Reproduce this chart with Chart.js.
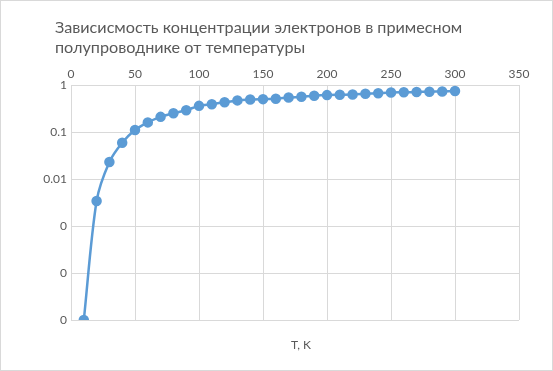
<!DOCTYPE html>
<html>
<head>
<meta charset="utf-8">
<script src="https://cdn.jsdelivr.net/npm/chart.js@4"></script>
<style>
  body { margin: 0; background: #fff; }
  #wrap { width: 553px; height: 371px; }
</style>
</head>
<body>
<div id="wrap"><canvas id="concChart" width="553" height="371"></canvas></div>
<script>
// temperature, K
const temps = [10, 20, 30, 40, 50, 60, 70, 80, 90, 100, 110, 120, 130, 140, 150,
  160, 170, 180, 190, 200, 210, 220, 230, 240, 250, 260, 270, 280, 290, 300];
// relative electron concentration
const conc = [0.00001, 0.0034, 0.023, 0.059, 0.11, 0.16, 0.21, 0.25, 0.29, 0.36,
  0.39, 0.43, 0.47, 0.49, 0.50, 0.51, 0.54, 0.56, 0.59, 0.61,
  0.62, 0.63, 0.65, 0.67, 0.69, 0.70, 0.71, 0.72, 0.73, 0.745];
const yTicks = [0.00001, 0.0001, 0.001, 0.01, 0.1, 1];
const titleLines = ['Зависисмость концентрации электронов в примесном', 'полупроводнике от температуры'];
const xTitle = 'T, K';

const textColor = '#595959';
const gridColor = '#d9d9d9';
const blue = '#5b9bd5';

// white background, thin outer frame, the left-aligned title and the x axis title under the plot
const frame = {
  id: 'frame',
  beforeDraw(chart) {
    const ctx = chart.ctx;
    ctx.save();
    ctx.fillStyle = '#fff';
    ctx.fillRect(0, 0, chart.width, chart.height);
    ctx.strokeStyle = gridColor;
    ctx.lineWidth = 1;
    ctx.strokeRect(0.5, 0.5, chart.width - 1, chart.height - 1);
    ctx.fillStyle = textColor;
    ctx.font = '16.2px Lato';
    ctx.textBaseline = 'alphabetic';
    ctx.textAlign = 'left';
    titleLines.forEach((line, i) => ctx.fillText(line, 55, 33 + i * 20));
    ctx.font = '12px Lato';
    ctx.textAlign = 'center';
    ctx.textBaseline = 'middle';
    ctx.fillText(xTitle, 301, 345);
    ctx.restore();
  }
};

new Chart(document.getElementById('concChart'), {
  type: 'line',
  data: {
    datasets: [{
      data: temps.map((t, i) => ({ x: t, y: conc[i] })),
      borderColor: blue,
      backgroundColor: blue,
      borderWidth: 2.5,
      pointRadius: 4,
      pointBackgroundColor: blue,
      pointBorderColor: blue,
      tension: 0.3,
      fill: false
    }]
  },
  plugins: [frame],
  options: {
    responsive: false,
    animation: false,
    layout: { padding: { left: 0, right: 34, top: 54, bottom: 51 } },
    plugins: {
      legend: { display: false },
      tooltip: { enabled: false }
    },
    scales: {
      x: {
        type: 'linear',
        position: 'top',
        min: 0,
        max: 350,
        ticks: { stepSize: 50, color: textColor, font: { family: 'Lato', size: 12 }, padding: 4, maxRotation: 0 },
        grid: { color: gridColor, drawTicks: false },
        border: { color: gridColor },
        afterFit(scale) { scale.height = 31; }
      },
      y: {
        type: 'logarithmic',
        min: 0.00001,
        max: 1,
        afterBuildTicks(scale) {
          scale.ticks = yTicks.map(v => ({ value: v }));
        },
        ticks: {
          color: textColor,
          font: { family: 'Lato', size: 12 },
          padding: 4,
          callback: v => (v >= 0.01 ? String(v) : '0')
        },
        grid: { color: gridColor, drawTicks: false },
        border: { color: gridColor },
        afterFit(scale) { scale.width = 71; }
      }
    }
  }
});
</script>
</body>
</html>
